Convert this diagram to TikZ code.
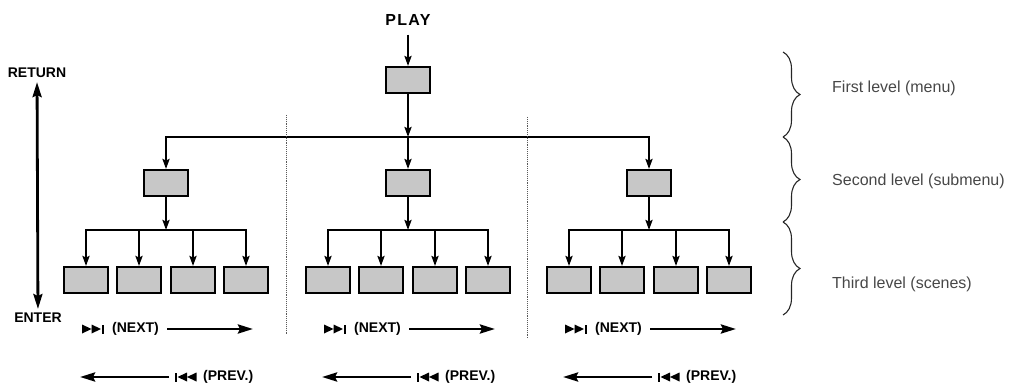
\documentclass[tikz,border=0pt]{standalone}
\usepackage{fontspec}
\setmainfont{Liberation Sans}
\usetikzlibrary{arrows.meta,positioning,decorations.pathreplacing}

\begin{document}
\begin{tikzpicture}[x=1pt,y=-1pt,
bx/.style={draw,line width=2.4pt,fill=black!22,minimum width=43.6pt,minimum height=25.6pt,inner sep=0pt},
a/.style={-{Stealth[length=10pt,width=7pt,inset=1.5pt]},line width=2.1pt},
na/.style={-{Stealth[length=15pt,width=9pt,inset=2pt]},line width=2.8pt},
k/.style={font=\fontsize{14}{16}\selectfont\bfseries,inner sep=1pt},
lv/.style={font=\fontsize{16}{19}\selectfont,text=black!72,anchor=west,inner sep=0pt},
br/.style={decorate,decoration={brace,amplitude=17pt},draw=black!85,line width=1.1pt},
sep/.style={densely dotted,line width=0.9pt,draw=black!65},
nexticon/.pic={\fill (0,-4.5)--(9.5,0)--(0,4.5)--cycle (9.5,-4.5)--(19,0)--(9.5,4.5)--cycle;\fill (19.5,-4.5) rectangle (21.5,4.5);},
previcon/.pic={\fill (0,-4.5) rectangle (2,4.5);\fill (12,-4.5)--(2.5,0)--(12,4.5)--cycle (21.5,-4.5)--(12,0)--(21.5,4.5)--cycle;}]
\useasboundingbox (0,0) rectangle (1009,387);
% top of the tree
\node[k,font=\fontsize{16}{18}\selectfont\bfseries\addfontfeatures{LetterSpace=8}] (play) at (408,20) {PLAY};
\node[bx] (top) at (408,80) {};
\coordinate (j0) at (408,137);
\draw[a,shorten <=8pt] (play) -- (top);\draw[a] (top) -- (j0);
% three branches
\foreach \g/\c in {1/166,2/408,3/649}{
  \node[bx] (s\g) at (\c,183) {};
  \draw[a] (j0) -| (s\g);
  \coordinate (j\g) at (\c,230);
  \draw[a] (s\g) -- (j\g);
  \foreach \k/\dx in {1/-80,2/-27,3/27,4/80}{
    \node[bx] (s\g\k) at (\c+\dx,280) {};
    \draw[a] (j\g) -| (s\g\k);
  }
  \pic at (\c-84,329) {nexticon};
  \node[k,anchor=west] (n\g) at (\c-55,329) {(NEXT)};
  \coordinate (ne\g) at (\c+87,329);
  \draw[na,shorten <=7pt] (n\g) -- (ne\g);
  \pic at (\c+9,377) {previcon};
  \node[k,anchor=west] (p\g) at (\c+36,377) {(PREV.)};
  \coordinate (pe\g) at (\c-86,377);
  \draw[na,shorten <=33pt] (p\g) -- (pe\g);
}
\draw[sep] (286,115) -- (286,335);\draw[sep] (527,117) -- (527,338);
% return / enter
\node[k] (ret) at (37,73) {RETURN};\node[k] (ent) at (38,318) {ENTER};
\draw[na,{Stealth[length=15pt,width=9pt,inset=2pt]}-{Stealth[length=15pt,width=9pt,inset=2pt]},shorten <=3pt,shorten >=3pt] (ent) -- (ret);
% levels
\draw[br] (783,52) -- (783,137);\draw[br] (783,137) -- (783,222);\draw[br] (783,222) -- (783,315);
\node[lv] (l1) at (832,88) {First level (menu)};
\node[lv] (l2) at (832,181) {Second level (submenu)};
\node[lv] (l3) at (832,284) {Third level (scenes)};
\end{tikzpicture}
\end{document}
